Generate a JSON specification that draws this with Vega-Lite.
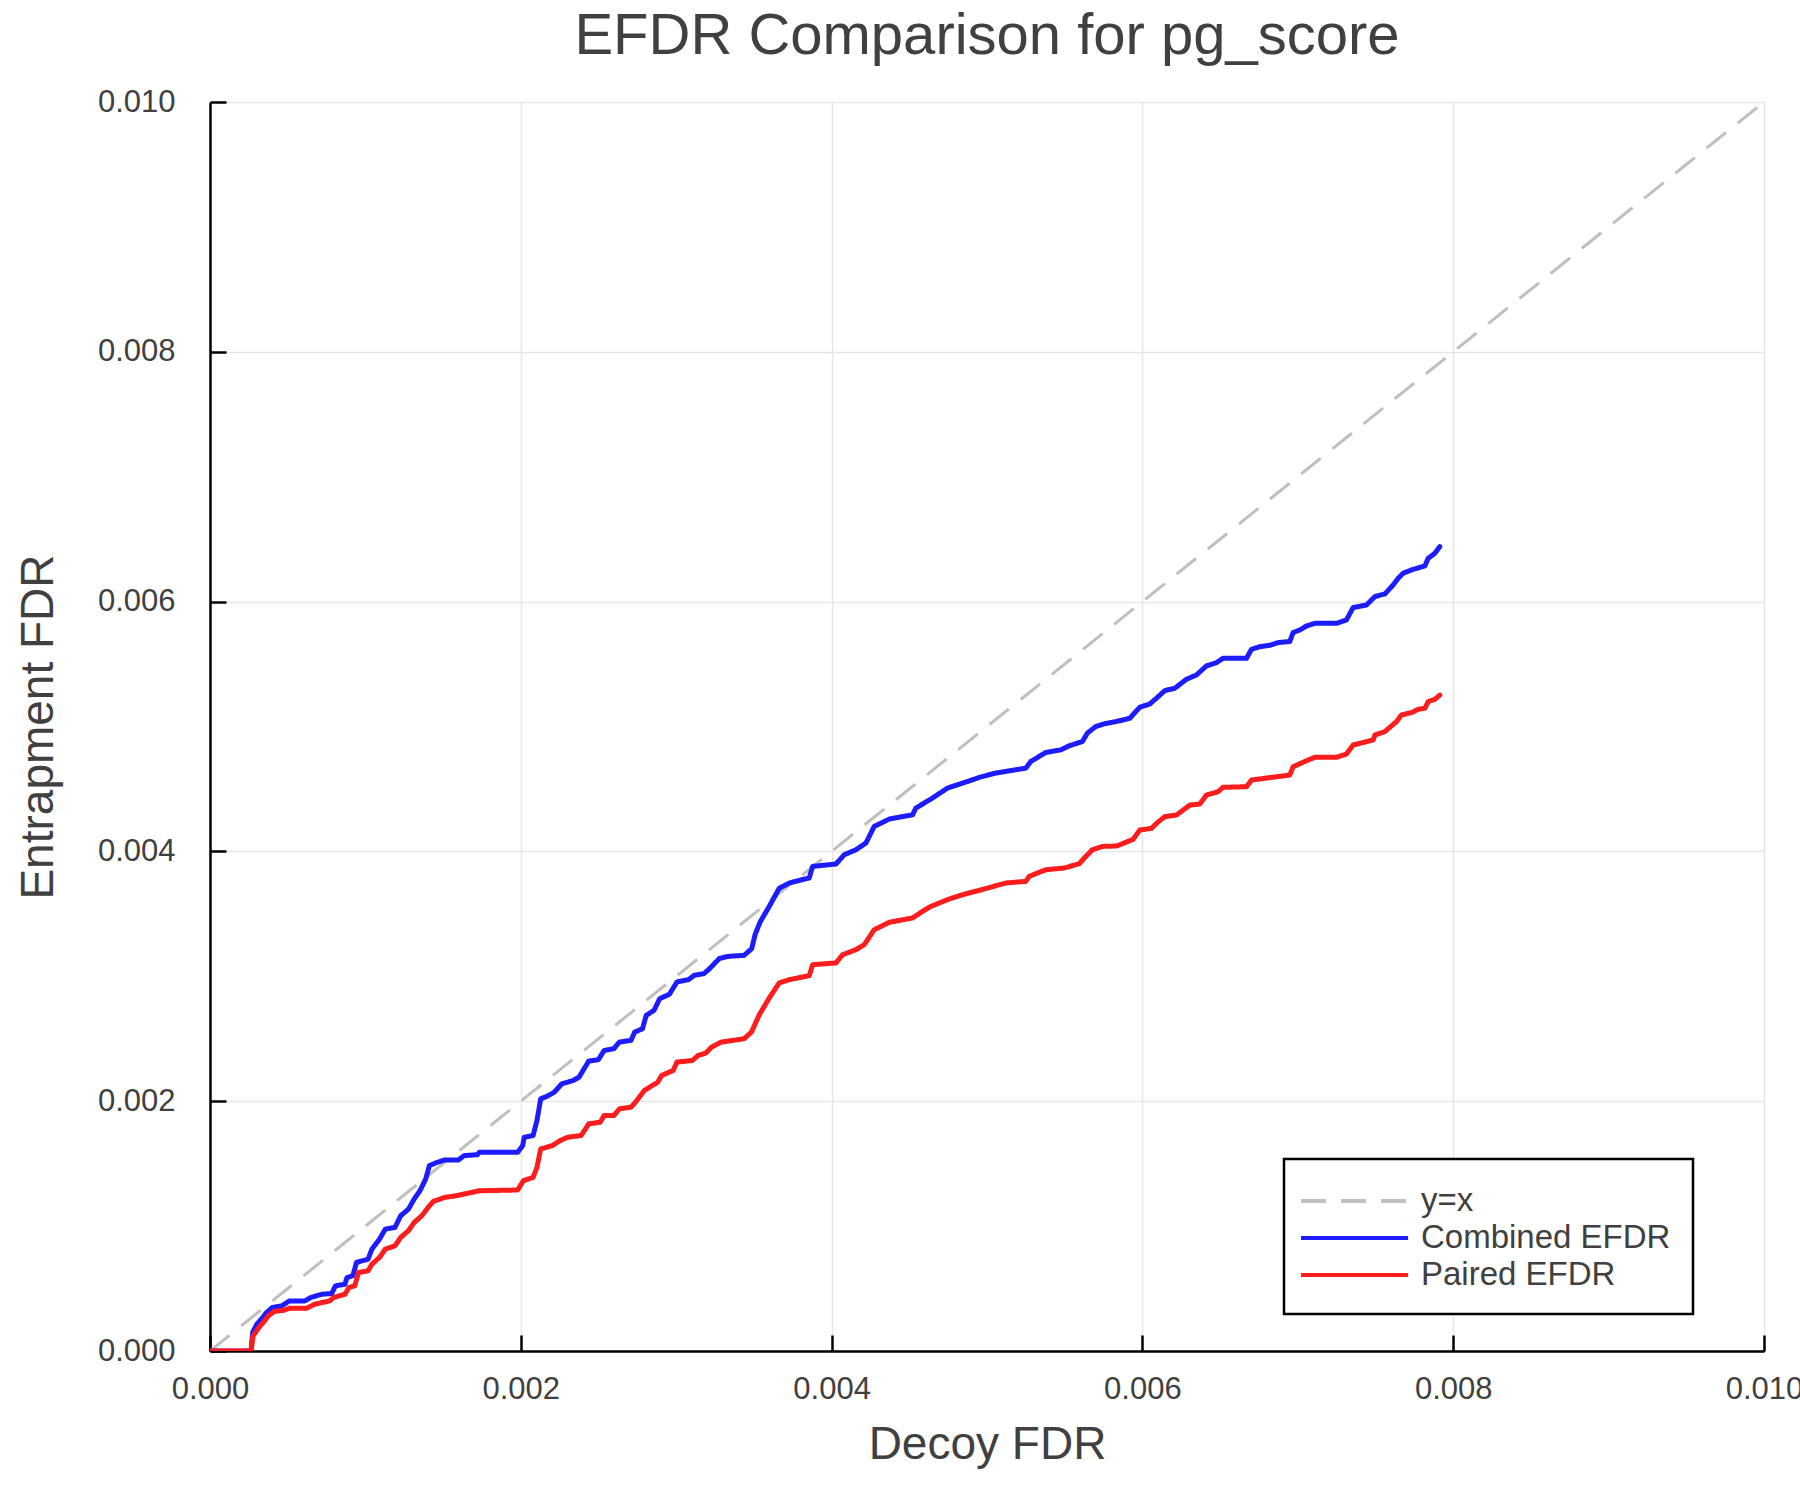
{
  "$schema": "https://vega.github.io/schema/vega-lite/v6.json",
  "description": "EFDR comparison, combined vs paired",
  "width": 1554,
  "height": 1249,
  "autosize": {"type": "none"},
  "padding": {"left": 210, "top": 102, "right": 36, "bottom": 149},
  "background": "white",
  "title": {
    "text": "EFDR Comparison for pg_score",
    "font": "Liberation Sans",
    "fontSize": 58,
    "fontWeight": "normal",
    "color": "#404040",
    "anchor": "middle",
    "offset": 20
  },
  "data": {
    "values": [
      {"series": "y=x", "x": 0, "y": 0},
      {"series": "y=x", "x": 0.01, "y": 0.01},
      {"series": "Combined EFDR", "x": 0, "y": 0},
      {"series": "Combined EFDR", "x": 0.000264, "y": 0},
      {"series": "Combined EFDR", "x": 0.000275, "y": 0.00015},
      {"series": "Combined EFDR", "x": 0.000301, "y": 0.000214},
      {"series": "Combined EFDR", "x": 0.000338, "y": 0.000267},
      {"series": "Combined EFDR", "x": 0.000363, "y": 0.000307},
      {"series": "Combined EFDR", "x": 0.0004, "y": 0.000348},
      {"series": "Combined EFDR", "x": 0.000462, "y": 0.000361},
      {"series": "Combined EFDR", "x": 0.000511, "y": 0.000401},
      {"series": "Combined EFDR", "x": 0.00061, "y": 0.000401},
      {"series": "Combined EFDR", "x": 0.000647, "y": 0.000428},
      {"series": "Combined EFDR", "x": 0.000721, "y": 0.000455},
      {"series": "Combined EFDR", "x": 0.000783, "y": 0.00046},
      {"series": "Combined EFDR", "x": 0.000807, "y": 0.000521},
      {"series": "Combined EFDR", "x": 0.000869, "y": 0.000535},
      {"series": "Combined EFDR", "x": 0.000881, "y": 0.000588},
      {"series": "Combined EFDR", "x": 0.000919, "y": 0.000602},
      {"series": "Combined EFDR", "x": 0.000943, "y": 0.000709},
      {"series": "Combined EFDR", "x": 0.001017, "y": 0.000735},
      {"series": "Combined EFDR", "x": 0.001042, "y": 0.000816},
      {"series": "Combined EFDR", "x": 0.001091, "y": 0.000896},
      {"series": "Combined EFDR", "x": 0.001128, "y": 0.000976},
      {"series": "Combined EFDR", "x": 0.00119, "y": 0.000989},
      {"series": "Combined EFDR", "x": 0.001227, "y": 0.001083},
      {"series": "Combined EFDR", "x": 0.001277, "y": 0.001136},
      {"series": "Combined EFDR", "x": 0.001314, "y": 0.001217},
      {"series": "Combined EFDR", "x": 0.001351, "y": 0.001283},
      {"series": "Combined EFDR", "x": 0.001388, "y": 0.001377},
      {"series": "Combined EFDR", "x": 0.001412, "y": 0.001484},
      {"series": "Combined EFDR", "x": 0.001462, "y": 0.001511},
      {"series": "Combined EFDR", "x": 0.001511, "y": 0.001529},
      {"series": "Combined EFDR", "x": 0.001598, "y": 0.001529},
      {"series": "Combined EFDR", "x": 0.001635, "y": 0.001564},
      {"series": "Combined EFDR", "x": 0.001721, "y": 0.001572},
      {"series": "Combined EFDR", "x": 0.001733, "y": 0.001591},
      {"series": "Combined EFDR", "x": 0.00198, "y": 0.001591},
      {"series": "Combined EFDR", "x": 0.002012, "y": 0.001644},
      {"series": "Combined EFDR", "x": 0.002022, "y": 0.001711},
      {"series": "Combined EFDR", "x": 0.002079, "y": 0.001725},
      {"series": "Combined EFDR", "x": 0.002104, "y": 0.001845},
      {"series": "Combined EFDR", "x": 0.002128, "y": 0.002019},
      {"series": "Combined EFDR", "x": 0.002165, "y": 0.002037},
      {"series": "Combined EFDR", "x": 0.002215, "y": 0.002072},
      {"series": "Combined EFDR", "x": 0.002264, "y": 0.002139},
      {"series": "Combined EFDR", "x": 0.002338, "y": 0.002166},
      {"series": "Combined EFDR", "x": 0.002375, "y": 0.002193},
      {"series": "Combined EFDR", "x": 0.002437, "y": 0.002321},
      {"series": "Combined EFDR", "x": 0.002499, "y": 0.002332},
      {"series": "Combined EFDR", "x": 0.002536, "y": 0.002406},
      {"series": "Combined EFDR", "x": 0.002598, "y": 0.00242},
      {"series": "Combined EFDR", "x": 0.002635, "y": 0.002473},
      {"series": "Combined EFDR", "x": 0.002709, "y": 0.002487},
      {"series": "Combined EFDR", "x": 0.002733, "y": 0.002553},
      {"series": "Combined EFDR", "x": 0.002783, "y": 0.00258},
      {"series": "Combined EFDR", "x": 0.002807, "y": 0.002687},
      {"series": "Combined EFDR", "x": 0.002857, "y": 0.002727},
      {"series": "Combined EFDR", "x": 0.002894, "y": 0.002821},
      {"series": "Combined EFDR", "x": 0.002956, "y": 0.002856},
      {"series": "Combined EFDR", "x": 0.003005, "y": 0.002955},
      {"series": "Combined EFDR", "x": 0.003079, "y": 0.002973},
      {"series": "Combined EFDR", "x": 0.003116, "y": 0.003008},
      {"series": "Combined EFDR", "x": 0.003178, "y": 0.003021},
      {"series": "Combined EFDR", "x": 0.003215, "y": 0.003061},
      {"series": "Combined EFDR", "x": 0.003277, "y": 0.003142},
      {"series": "Combined EFDR", "x": 0.003338, "y": 0.00316},
      {"series": "Combined EFDR", "x": 0.003437, "y": 0.003168},
      {"series": "Combined EFDR", "x": 0.003486, "y": 0.003222},
      {"series": "Combined EFDR", "x": 0.003508, "y": 0.003335},
      {"series": "Combined EFDR", "x": 0.00354, "y": 0.003435},
      {"series": "Combined EFDR", "x": 0.003599, "y": 0.00356},
      {"series": "Combined EFDR", "x": 0.003663, "y": 0.003705},
      {"series": "Combined EFDR", "x": 0.003728, "y": 0.003747},
      {"series": "Combined EFDR", "x": 0.003856, "y": 0.003787},
      {"series": "Combined EFDR", "x": 0.003878, "y": 0.00388},
      {"series": "Combined EFDR", "x": 0.004028, "y": 0.003899},
      {"series": "Combined EFDR", "x": 0.004081, "y": 0.003973},
      {"series": "Combined EFDR", "x": 0.004156, "y": 0.004013},
      {"series": "Combined EFDR", "x": 0.004221, "y": 0.004067},
      {"series": "Combined EFDR", "x": 0.004274, "y": 0.0042},
      {"series": "Combined EFDR", "x": 0.004371, "y": 0.004259},
      {"series": "Combined EFDR", "x": 0.004521, "y": 0.004293},
      {"series": "Combined EFDR", "x": 0.004542, "y": 0.004347},
      {"series": "Combined EFDR", "x": 0.004639, "y": 0.004419},
      {"series": "Combined EFDR", "x": 0.004746, "y": 0.004507},
      {"series": "Combined EFDR", "x": 0.004875, "y": 0.00456},
      {"series": "Combined EFDR", "x": 0.00495, "y": 0.004592},
      {"series": "Combined EFDR", "x": 0.005057, "y": 0.004627},
      {"series": "Combined EFDR", "x": 0.00525, "y": 0.004667},
      {"series": "Combined EFDR", "x": 0.005282, "y": 0.00472},
      {"series": "Combined EFDR", "x": 0.005378, "y": 0.004792},
      {"series": "Combined EFDR", "x": 0.005475, "y": 0.004813},
      {"series": "Combined EFDR", "x": 0.005528, "y": 0.004845},
      {"series": "Combined EFDR", "x": 0.005614, "y": 0.00488},
      {"series": "Combined EFDR", "x": 0.005646, "y": 0.004947},
      {"series": "Combined EFDR", "x": 0.0057, "y": 0.005},
      {"series": "Combined EFDR", "x": 0.005753, "y": 0.005021},
      {"series": "Combined EFDR", "x": 0.005833, "y": 0.00504},
      {"series": "Combined EFDR", "x": 0.005918, "y": 0.005065},
      {"series": "Combined EFDR", "x": 0.005983, "y": 0.005154},
      {"series": "Combined EFDR", "x": 0.006047, "y": 0.00518},
      {"series": "Combined EFDR", "x": 0.00609, "y": 0.005226},
      {"series": "Combined EFDR", "x": 0.006144, "y": 0.005287},
      {"series": "Combined EFDR", "x": 0.006208, "y": 0.005306},
      {"series": "Combined EFDR", "x": 0.006283, "y": 0.005378},
      {"series": "Combined EFDR", "x": 0.006348, "y": 0.005413},
      {"series": "Combined EFDR", "x": 0.006412, "y": 0.005485},
      {"series": "Combined EFDR", "x": 0.006476, "y": 0.005511},
      {"series": "Combined EFDR", "x": 0.006519, "y": 0.005546},
      {"series": "Combined EFDR", "x": 0.00667, "y": 0.005546},
      {"series": "Combined EFDR", "x": 0.006702, "y": 0.005618},
      {"series": "Combined EFDR", "x": 0.006755, "y": 0.005639},
      {"series": "Combined EFDR", "x": 0.00682, "y": 0.00565},
      {"series": "Combined EFDR", "x": 0.006873, "y": 0.005672},
      {"series": "Combined EFDR", "x": 0.006948, "y": 0.00568},
      {"series": "Combined EFDR", "x": 0.00697, "y": 0.005752},
      {"series": "Combined EFDR", "x": 0.007013, "y": 0.005773},
      {"series": "Combined EFDR", "x": 0.007056, "y": 0.005805},
      {"series": "Combined EFDR", "x": 0.007109, "y": 0.005826},
      {"series": "Combined EFDR", "x": 0.007249, "y": 0.005826},
      {"series": "Combined EFDR", "x": 0.007313, "y": 0.005853},
      {"series": "Combined EFDR", "x": 0.007356, "y": 0.005952},
      {"series": "Combined EFDR", "x": 0.007442, "y": 0.005973},
      {"series": "Combined EFDR", "x": 0.007496, "y": 0.00604},
      {"series": "Combined EFDR", "x": 0.00756, "y": 0.006061},
      {"series": "Combined EFDR", "x": 0.007614, "y": 0.006134},
      {"series": "Combined EFDR", "x": 0.007646, "y": 0.006187},
      {"series": "Combined EFDR", "x": 0.007678, "y": 0.006227},
      {"series": "Combined EFDR", "x": 0.007732, "y": 0.006254},
      {"series": "Combined EFDR", "x": 0.007818, "y": 0.006286},
      {"series": "Combined EFDR", "x": 0.007839, "y": 0.006347},
      {"series": "Combined EFDR", "x": 0.007882, "y": 0.006387},
      {"series": "Combined EFDR", "x": 0.007914, "y": 0.006441},
      {"series": "Paired EFDR", "x": 0, "y": 0},
      {"series": "Paired EFDR", "x": 0.000264, "y": 0},
      {"series": "Paired EFDR", "x": 0.000277, "y": 0.00012},
      {"series": "Paired EFDR", "x": 0.000314, "y": 0.000187},
      {"series": "Paired EFDR", "x": 0.000351, "y": 0.000241},
      {"series": "Paired EFDR", "x": 0.000375, "y": 0.000281},
      {"series": "Paired EFDR", "x": 0.000412, "y": 0.000316},
      {"series": "Paired EFDR", "x": 0.000474, "y": 0.000326},
      {"series": "Paired EFDR", "x": 0.000511, "y": 0.000342},
      {"series": "Paired EFDR", "x": 0.000622, "y": 0.000342},
      {"series": "Paired EFDR", "x": 0.000672, "y": 0.000374},
      {"series": "Paired EFDR", "x": 0.00077, "y": 0.000401},
      {"series": "Paired EFDR", "x": 0.000795, "y": 0.000428},
      {"series": "Paired EFDR", "x": 0.000869, "y": 0.000455},
      {"series": "Paired EFDR", "x": 0.000894, "y": 0.000508},
      {"series": "Paired EFDR", "x": 0.000931, "y": 0.000521},
      {"series": "Paired EFDR", "x": 0.000956, "y": 0.000628},
      {"series": "Paired EFDR", "x": 0.001017, "y": 0.000642},
      {"series": "Paired EFDR", "x": 0.001042, "y": 0.000695},
      {"series": "Paired EFDR", "x": 0.001091, "y": 0.000749},
      {"series": "Paired EFDR", "x": 0.001128, "y": 0.000816},
      {"series": "Paired EFDR", "x": 0.00119, "y": 0.000842},
      {"series": "Paired EFDR", "x": 0.001227, "y": 0.000909},
      {"series": "Paired EFDR", "x": 0.001277, "y": 0.000963},
      {"series": "Paired EFDR", "x": 0.001314, "y": 0.001029},
      {"series": "Paired EFDR", "x": 0.001363, "y": 0.001083},
      {"series": "Paired EFDR", "x": 0.001412, "y": 0.001163},
      {"series": "Paired EFDR", "x": 0.001437, "y": 0.001198},
      {"series": "Paired EFDR", "x": 0.001511, "y": 0.00123},
      {"series": "Paired EFDR", "x": 0.001585, "y": 0.001243},
      {"series": "Paired EFDR", "x": 0.001733, "y": 0.001283},
      {"series": "Paired EFDR", "x": 0.00198, "y": 0.001289},
      {"series": "Paired EFDR", "x": 0.002017, "y": 0.001364},
      {"series": "Paired EFDR", "x": 0.002079, "y": 0.00139},
      {"series": "Paired EFDR", "x": 0.002104, "y": 0.001471},
      {"series": "Paired EFDR", "x": 0.002128, "y": 0.001618},
      {"series": "Paired EFDR", "x": 0.002202, "y": 0.001644},
      {"series": "Paired EFDR", "x": 0.002252, "y": 0.001684},
      {"series": "Paired EFDR", "x": 0.002301, "y": 0.001711},
      {"series": "Paired EFDR", "x": 0.002388, "y": 0.001725},
      {"series": "Paired EFDR", "x": 0.002437, "y": 0.001818},
      {"series": "Paired EFDR", "x": 0.002511, "y": 0.001832},
      {"series": "Paired EFDR", "x": 0.002536, "y": 0.001885},
      {"series": "Paired EFDR", "x": 0.002598, "y": 0.001885},
      {"series": "Paired EFDR", "x": 0.002635, "y": 0.001939},
      {"series": "Paired EFDR", "x": 0.002709, "y": 0.001952},
      {"series": "Paired EFDR", "x": 0.002746, "y": 0.002005},
      {"series": "Paired EFDR", "x": 0.002795, "y": 0.002086},
      {"series": "Paired EFDR", "x": 0.002881, "y": 0.002152},
      {"series": "Paired EFDR", "x": 0.002906, "y": 0.002206},
      {"series": "Paired EFDR", "x": 0.00298, "y": 0.002246},
      {"series": "Paired EFDR", "x": 0.003005, "y": 0.002313},
      {"series": "Paired EFDR", "x": 0.003104, "y": 0.002326},
      {"series": "Paired EFDR", "x": 0.003141, "y": 0.002366},
      {"series": "Paired EFDR", "x": 0.00319, "y": 0.002385},
      {"series": "Paired EFDR", "x": 0.003227, "y": 0.002433},
      {"series": "Paired EFDR", "x": 0.003289, "y": 0.002473},
      {"series": "Paired EFDR", "x": 0.003437, "y": 0.0025},
      {"series": "Paired EFDR", "x": 0.003485, "y": 0.002555},
      {"series": "Paired EFDR", "x": 0.003535, "y": 0.002693},
      {"series": "Paired EFDR", "x": 0.003599, "y": 0.002827},
      {"series": "Paired EFDR", "x": 0.003663, "y": 0.002947},
      {"series": "Paired EFDR", "x": 0.003728, "y": 0.002973},
      {"series": "Paired EFDR", "x": 0.003856, "y": 0.003005},
      {"series": "Paired EFDR", "x": 0.003878, "y": 0.003093},
      {"series": "Paired EFDR", "x": 0.004028, "y": 0.003107},
      {"series": "Paired EFDR", "x": 0.004071, "y": 0.003173},
      {"series": "Paired EFDR", "x": 0.004156, "y": 0.003213},
      {"series": "Paired EFDR", "x": 0.00421, "y": 0.003253},
      {"series": "Paired EFDR", "x": 0.004274, "y": 0.003373},
      {"series": "Paired EFDR", "x": 0.004371, "y": 0.003432},
      {"series": "Paired EFDR", "x": 0.004521, "y": 0.003467},
      {"series": "Paired EFDR", "x": 0.004585, "y": 0.00352},
      {"series": "Paired EFDR", "x": 0.004639, "y": 0.00356},
      {"series": "Paired EFDR", "x": 0.004757, "y": 0.003619},
      {"series": "Paired EFDR", "x": 0.004842, "y": 0.003653},
      {"series": "Paired EFDR", "x": 0.00495, "y": 0.003688},
      {"series": "Paired EFDR", "x": 0.005121, "y": 0.003747},
      {"series": "Paired EFDR", "x": 0.00525, "y": 0.00376},
      {"series": "Paired EFDR", "x": 0.005271, "y": 0.0038},
      {"series": "Paired EFDR", "x": 0.005378, "y": 0.003853},
      {"series": "Paired EFDR", "x": 0.005496, "y": 0.003867},
      {"series": "Paired EFDR", "x": 0.005593, "y": 0.003901},
      {"series": "Paired EFDR", "x": 0.005636, "y": 0.00396},
      {"series": "Paired EFDR", "x": 0.005678, "y": 0.004013},
      {"series": "Paired EFDR", "x": 0.005743, "y": 0.00404},
      {"series": "Paired EFDR", "x": 0.005833, "y": 0.004043},
      {"series": "Paired EFDR", "x": 0.00594, "y": 0.004096},
      {"series": "Paired EFDR", "x": 0.005983, "y": 0.004171},
      {"series": "Paired EFDR", "x": 0.006058, "y": 0.004184},
      {"series": "Paired EFDR", "x": 0.00609, "y": 0.004224},
      {"series": "Paired EFDR", "x": 0.006144, "y": 0.004278},
      {"series": "Paired EFDR", "x": 0.006219, "y": 0.004291},
      {"series": "Paired EFDR", "x": 0.006305, "y": 0.004371},
      {"series": "Paired EFDR", "x": 0.006369, "y": 0.004379},
      {"series": "Paired EFDR", "x": 0.006412, "y": 0.004451},
      {"series": "Paired EFDR", "x": 0.006487, "y": 0.004478},
      {"series": "Paired EFDR", "x": 0.006519, "y": 0.004513},
      {"series": "Paired EFDR", "x": 0.00667, "y": 0.004518},
      {"series": "Paired EFDR", "x": 0.006702, "y": 0.004571},
      {"series": "Paired EFDR", "x": 0.006863, "y": 0.004598},
      {"series": "Paired EFDR", "x": 0.006948, "y": 0.004611},
      {"series": "Paired EFDR", "x": 0.00697, "y": 0.004678},
      {"series": "Paired EFDR", "x": 0.007056, "y": 0.004726},
      {"series": "Paired EFDR", "x": 0.007109, "y": 0.004753},
      {"series": "Paired EFDR", "x": 0.007249, "y": 0.004753},
      {"series": "Paired EFDR", "x": 0.007313, "y": 0.00478},
      {"series": "Paired EFDR", "x": 0.007356, "y": 0.004852},
      {"series": "Paired EFDR", "x": 0.007442, "y": 0.004878},
      {"series": "Paired EFDR", "x": 0.007485, "y": 0.004892},
      {"series": "Paired EFDR", "x": 0.007496, "y": 0.004932},
      {"series": "Paired EFDR", "x": 0.00756, "y": 0.004959},
      {"series": "Paired EFDR", "x": 0.007635, "y": 0.005039},
      {"series": "Paired EFDR", "x": 0.007667, "y": 0.005092},
      {"series": "Paired EFDR", "x": 0.007732, "y": 0.005111},
      {"series": "Paired EFDR", "x": 0.007775, "y": 0.005138},
      {"series": "Paired EFDR", "x": 0.007818, "y": 0.005146},
      {"series": "Paired EFDR", "x": 0.007839, "y": 0.005199},
      {"series": "Paired EFDR", "x": 0.007882, "y": 0.005218},
      {"series": "Paired EFDR", "x": 0.007914, "y": 0.005252}
    ]
  },
  "encoding": {
    "x": {
      "field": "x",
      "type": "quantitative",
      "title": "Decoy FDR",
      "scale": {"domain": [0, 0.01], "nice": false},
      "axis": {
        "values": [0, 0.002, 0.004, 0.006, 0.008, 0.01],
        "format": ".3f",
        "labelPadding": 39,
        "labelFlush": false,
        "labelOverlap": false,
        "titleY": 93,
        "titleBaseline": "middle"
      }
    },
    "y": {
      "field": "y",
      "type": "quantitative",
      "title": "Entrapment FDR",
      "scale": {"domain": [0, 0.01], "nice": false},
      "axis": {
        "values": [0, 0.002, 0.004, 0.006, 0.008, 0.01],
        "format": ".3f",
        "labelPadding": 51,
        "labelFlush": false,
        "labelOverlap": false,
        "titleX": -172,
        "titleBaseline": "middle"
      }
    },
    "color": {
      "field": "series",
      "type": "nominal",
      "scale": {
        "domain": ["y=x", "Combined EFDR", "Paired EFDR"],
        "range": ["#bfbfbf", "#1c1cff", "#ff1c1c"]
      },
      "legend": {
        "orient": "none",
        "legendX": 1074,
        "legendY": 1057,
        "title": null,
        "fillColor": "white",
        "strokeColor": "black",
        "padding": 22,
        "symbolType": "M-1.4,0H4.6",
        "symbolSize": 1274,
        "symbolStrokeWidth": 4,
        "labelOffset": 75,
        "labelFontSize": 33,
        "labelLimit": 600,
        "labelExpr": "datum.label + '\u00a0\u00a0'",
        "rowPadding": 0
      }
    },
    "strokeDash": {
      "field": "series",
      "type": "nominal",
      "scale": {
        "domain": ["y=x", "Combined EFDR", "Paired EFDR"],
        "range": [[25, 15], [1, 0], [1, 0]]
      },
      "legend": {
        "orient": "none",
        "legendX": 1074,
        "legendY": 1057,
        "title": null,
        "fillColor": "white",
        "strokeColor": "black",
        "padding": 22,
        "symbolType": "M-1.4,0H4.6",
        "symbolSize": 1274,
        "symbolStrokeWidth": 4,
        "labelOffset": 75,
        "labelFontSize": 33,
        "labelLimit": 600,
        "labelExpr": "datum.label + '\u00a0\u00a0'",
        "rowPadding": 0
      }
    }
  },
  "layer": [
    {
      "transform": [{"filter": "datum.series === 'y=x'"}],
      "mark": {"type": "line", "strokeWidth": 3, "clip": true}
    },
    {
      "transform": [{"filter": "datum.series !== 'y=x'"}],
      "mark": {"type": "line", "strokeWidth": 5, "clip": true, "strokeCap": "round", "strokeJoin": "round"}
    }
  ],
  "config": {
    "view": {"stroke": null},
    "font": "Liberation Sans",
    "axis": {
      "domainColor": "black",
      "domainWidth": 2.5,
      "tickColor": "black",
      "tickWidth": 2.5,
      "tickSize": -16,
      "gridColor": "#e6e6e6",
      "gridWidth": 1.5,
      "labelFont": "Liberation Sans",
      "labelFontSize": 31,
      "labelColor": "#404040",
      "titleFont": "Liberation Sans",
      "titleFontSize": 46,
      "titleFontWeight": "normal",
      "titleColor": "#404040"
    },
    "legend": {
      "labelFont": "Liberation Sans",
      "labelColor": "#404040",
      "strokeWidth": 2.5
    }
  }
}
